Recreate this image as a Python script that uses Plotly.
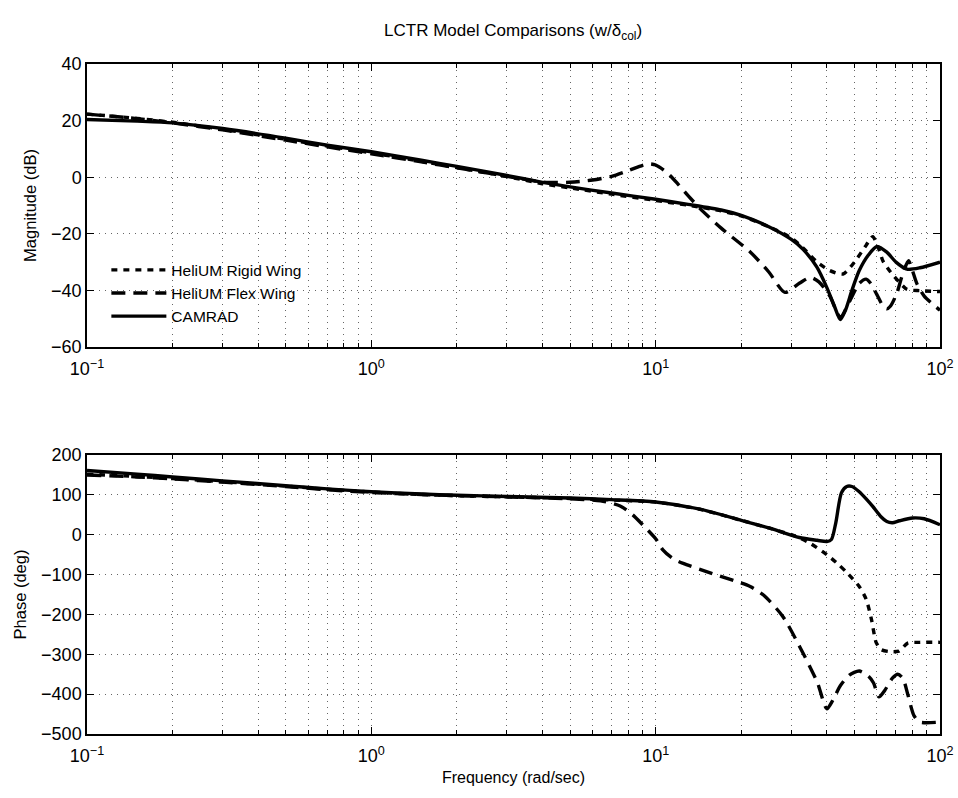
import plotly.graph_objects as go

# ---------------- data ----------------
# Magnitude (dB)
w_mag_rigid = [0.1, 0.15, 0.2, 0.3, 0.5, 0.7, 1, 1.5, 2, 3, 4, 5, 7, 10, 13, 17, 20, 25, 30, 33, 37, 41, 45.6, 50, 55, 58, 61, 63, 67, 71.5, 76.5, 85, 100]
mag_rigid = [22.3, 20.8, 19.4, 16.9, 13.4, 11.0, 8.6, 5.6, 3.4, 0.2, -2.3, -3.8, -6.0, -8.2, -9.9, -11.9, -13.7, -17.5, -21.5, -25.0, -30.0, -33.0, -34.2, -30.0, -24.0, -21.0, -25.5, -29.6, -33.5, -36.8, -39.6, -40.1, -40.4]

w_mag_flex = [0.1, 0.15, 0.2, 0.3, 0.5, 0.7, 1, 1.5, 2, 3, 4, 5, 6, 7, 8, 9, 9.5, 10, 11, 12, 13, 14.3, 17, 21.5, 25, 28.5, 32, 35, 37.5, 41, 44.6, 48, 52, 55, 57, 60, 63, 65, 67, 70.5, 74, 77.5, 80, 83, 88, 100]
mag_flex = [22.3, 20.7, 19.2, 16.7, 13.1, 10.7, 8.3, 5.4, 3.3, 0.3, -1.7, -1.8, -1.0, 0.3, 2.3, 4.2, 4.7, 4.3, 1.5, -2.5, -6.5, -11.0, -18.0, -26.4, -33.5, -40.7, -37.5, -35.4, -37.0, -42.0, -49.5, -44.0, -37.5, -36.0, -37.5, -41.5, -45.5, -46.5, -45.5, -41.0, -34.0, -29.5, -33.0, -37.7, -42.0, -47.0]

w_mag_camrad = [0.1, 0.15, 0.2, 0.3, 0.5, 0.7, 1, 1.5, 2, 3, 4, 5, 7, 10, 13, 17, 20, 25, 30, 33, 36.9, 40, 42.5, 44.6, 46.5, 49, 52, 56, 60, 65, 70, 76.5, 85, 100]
mag_camrad = [20.4, 19.8, 19.2, 17.2, 13.8, 11.3, 9.0, 6.0, 3.8, 0.6, -1.8, -3.4, -5.6, -7.8, -9.6, -11.6, -13.5, -17.5, -22.0, -25.5, -31.8, -39.0, -45.5, -50.3, -47.0, -40.0, -33.0, -27.5, -24.5, -26.5, -30.0, -32.5, -32.0, -30.0]

# Phase (deg)
w_ph_rigid = [0.1, 0.15, 0.2, 0.3, 0.5, 0.7, 1, 1.5, 2, 3, 5, 7, 10, 14.3, 19.8, 25, 30, 32, 35, 40, 44, 47, 52, 55, 57.5, 59.6, 62, 66, 71.7, 77, 85, 100]
ph_rigid = [152, 146, 141, 133, 122, 114, 107, 101, 98, 95, 91, 87, 82, 64, 37, 17, 0, -8, -22, -50, -75, -95, -130, -162, -215, -270, -288, -293, -292, -272, -270, -270]

w_ph_flex = [0.1, 0.15, 0.2, 0.3, 0.5, 0.7, 1, 1.5, 2, 3, 5, 6.4, 7.5, 8.3, 9, 10, 10.6, 11.5, 12.5, 15, 18.8, 21.5, 24, 28, 32, 37, 40, 42, 44.6, 48, 52, 56, 58.4, 61, 64, 68, 71, 74, 77, 81, 85, 100]
ph_flex = [150, 145, 140, 132, 121, 113, 106, 101, 98, 95, 90, 85, 72, 50, 25, -10, -38, -60, -72, -92, -115, -130, -152, -205, -279, -370, -437, -415, -379, -352, -342, -355, -372, -407, -390, -360, -350, -360, -400, -454, -470, -470]

w_ph_camrad = [0.1, 0.15, 0.2, 0.3, 0.5, 0.7, 1, 1.5, 2, 3, 5, 7, 10, 14.3, 19.8, 25, 32, 37, 40, 41.5, 43, 45, 47, 49, 52, 55, 58, 62, 65, 68, 72, 80, 88, 100]
ph_camrad = [161, 152, 145, 135, 123, 115, 108, 102, 99, 96, 92, 88, 82, 64, 37, 17, -7, -14, -17, -12, 30, 105, 121, 121, 108, 90, 71, 45, 33, 30, 35, 42, 40, 25]

series_names = ["HeliUM Rigid Wing", "HeliUM Flex Wing", "CAMRAD"]

mag_tickvals = [-60, -40, -20, 0, 20, 40]
ph_tickvals = [-500, -400, -300, -200, -100, 0, 100, 200]
x_tickvals = [0.1, 1, 10, 100]
x_ticktext = ["10<sup>\u22121</sup>", "10<sup>0</sup>", "10<sup>1</sup>", "10<sup>2</sup>"]
x_minor = [m * d for d in (0.1, 1, 10) for m in range(2, 10)]

# ---------------- figure ----------------
FONT = "Liberation Sans, Arial, Helvetica, sans-serif"
dashes = ["6px,6px", "14px,8px", "solid"]
LW = 3.4

fig = go.Figure()
mag_sets = [(w_mag_rigid, mag_rigid), (w_mag_flex, mag_flex), (w_mag_camrad, mag_camrad)]
ph_sets = [(w_ph_rigid, ph_rigid), (w_ph_flex, ph_flex), (w_ph_camrad, ph_camrad)]

for i, (name, (wx, my)) in enumerate(zip(series_names, mag_sets)):
    fig.add_trace(go.Scatter(x=wx, y=my, mode="lines", name=name, legendgroup=name,
                             line=dict(color="black", width=LW, dash=dashes[i], shape="spline", smoothing=0.7),
                             xaxis="x", yaxis="y"))
for i, (name, (wx, py)) in enumerate(zip(series_names, ph_sets)):
    fig.add_trace(go.Scatter(x=wx, y=py, mode="lines", name=name, legendgroup=name, showlegend=False,
                             line=dict(color="black", width=LW, dash=dashes[i], shape="spline", smoothing=0.7),
                             xaxis="x2", yaxis="y2"))

grid_col = "#666"
grid_dash = "1px,5px"
TICKSIZE = 18

def xaxis_cfg(anchor, show_title):
    d = dict(type="log", range=[-1, 2], anchor=anchor, automargin=False,
             tickmode="array", tickvals=x_tickvals, ticktext=x_ticktext,
             ticks="inside", ticklen=7, tickwidth=1, tickcolor="black",
             ticklabelstandoff=5,
             showline=True, linecolor="black", linewidth=1.5, mirror="allticks",
             showgrid=True, gridcolor=grid_col, griddash=grid_dash, gridwidth=1,
             zeroline=False,
             tickfont=dict(family=FONT, size=TICKSIZE, color="black"),
             minor=dict(tickmode="array", tickvals=x_minor, ticks="inside", ticklen=4,
                        tickcolor="black", showgrid=True, gridcolor=grid_col,
                        griddash=grid_dash, gridwidth=1))
    if show_title:
        d["title"] = dict(text="Frequency (rad/sec)", font=dict(family=FONT, size=16, color="black"), standoff=6)
    return d

def yaxis_cfg(anchor, domain, rng, tv, title):
    return dict(domain=domain, range=rng, anchor=anchor, automargin=False,
                tickmode="array", tickvals=tv,
                ticks="inside", ticklen=7, tickwidth=1, tickcolor="black",
                showline=True, linecolor="black", linewidth=1.5, mirror="allticks",
                showgrid=True, gridcolor=grid_col, griddash=grid_dash, gridwidth=1,
                zeroline=False,
                tickfont=dict(family=FONT, size=TICKSIZE, color="black"),
                title=dict(text=title, font=dict(family=FONT, size=16.5, color="black"), standoff=10))

fig.update_layout(
    width=958, height=798,
    margin=dict(l=87, r=18, t=64, b=64),
    paper_bgcolor="white", plot_bgcolor="white",
    font=dict(family=FONT, color="black"),
    title=dict(text="LCTR Model Comparisons (w/\u03b4<sub>col</sub>)",
               x=0.5356, xanchor="center", y=0.9624, yanchor="middle",
               font=dict(family=FONT, size=17, color="black")),
    xaxis=xaxis_cfg("y", False),
    yaxis=yaxis_cfg("x", [0.5776, 1.0], [-60, 40], mag_tickvals, "Magnitude (dB)"),
    xaxis2=xaxis_cfg("y2", True),
    yaxis2=yaxis_cfg("x2", [0.0, 0.4164], [-500, 200], ph_tickvals, "Phase (deg)"),
    legend=dict(x=0.0227, y=0.7175, xanchor="left", yanchor="top",
                bgcolor="rgba(0,0,0,0)", borderwidth=0,
                font=dict(family=FONT, size=15.5, color="black"),
                traceorder="grouped", tracegroupgap=0, itemwidth=55),
    showlegend=True,
)

# remove the page's default 8 px body margin so the figure sits at the window's corner
fig.write_html("out.html",
               config={"displayModeBar": False},
               post_script="document.body.style.margin='0';document.body.style.overflow='hidden';")
